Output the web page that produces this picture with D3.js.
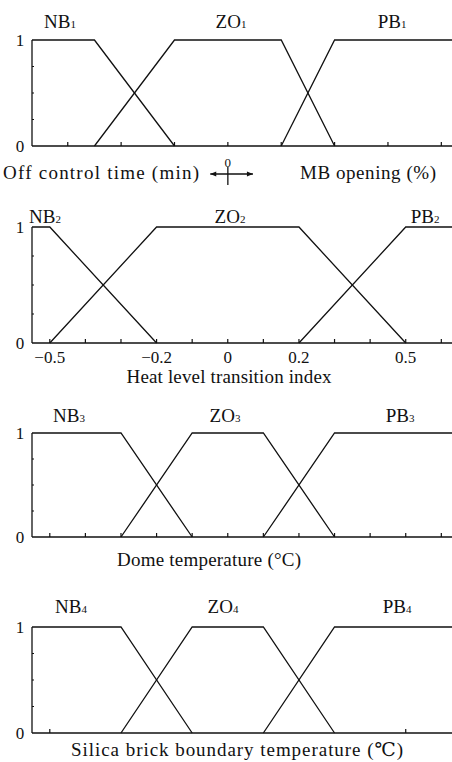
<!DOCTYPE html>
<html>
<head>
<meta charset="utf-8">
<script src="https://cdn.jsdelivr.net/npm/d3@7"></script>
<style>
  body { margin: 0; background: #fff; }
  text { font-family: "Liberation Serif", "DejaVu Serif", serif; fill: #111; }
</style>
</head>
<body>
<div class="canvas"></div>
<script>
var W = 452, H = 762;
var svg = d3.select(".canvas").append("svg").attr("width", W).attr("height", H);

// panel 1 : off control time / MB opening (x in tick units, 0 = centre)
var p1Domain = [-3.67, 4.2];
var p1Ticks = [-3, -2, -1, 0, 1, 2, 3, 4];
var setNames = ["NB", "ZO", "PB"];
var p1NB = [[-3.67, 1], [-2.5, 1], [-1, 0]];
var p1ZO = [[-2.5, 0], [-1, 1], [1, 1], [2, 0]];
var p1PB = [[1, 0], [2, 1], [4.2, 1]];

// panel 2 : heat level transition index
var p2Domain = [-0.55, 0.63];
var p2Ticks = [-0.5, -0.4, -0.3, -0.2, -0.1, 0, 0.1, 0.2, 0.3, 0.4, 0.5, 0.6];
var p2TickLabels = [-0.5, -0.2, 0, 0.2, 0.5];
var p2NB = [[-0.55, 1], [-0.5, 1], [-0.2, 0]];
var p2ZO = [[-0.5, 0], [-0.2, 1], [0.2, 1], [0.5, 0]];
var p2PB = [[0.2, 0], [0.5, 1], [0.63, 1]];

// panel 3 : dome temperature
var p3Domain = [-5.5, 6.3];
var p3Ticks = [-5, -4, -3, -2, -1, 0, 1, 2, 3, 4, 5, 6];
var p3NB = [[-5.5, 1], [-3, 1], [-1, 0]];
var p3ZO = [[-3, 0], [-1, 1], [1, 1], [3, 0]];
var p3PB = [[1, 0], [3, 1], [6.3, 1]];

// panel 4 : silica brick boundary temperature
var p4Domain = [-5.5, 6.3];
var p4Ticks = [-5, 5];
var p4NB = [[-5.5, 1], [-3, 1], [-1, 0]];
var p4ZO = [[-3, 0], [-1, 1], [1, 1], [3, 0]];
var p4PB = [[1, 0], [3, 1], [6.3, 1]];

var panels = [
  {domain: p1Domain, ticks: p1Ticks, labels: [], sets: [p1NB, p1ZO, p1PB], idx: "1",
   top: 40, bottom: 146, nameY: 28, nameX: [60, 231, 392]},
  {domain: p2Domain, ticks: p2Ticks, labels: p2TickLabels, sets: [p2NB, p2ZO, p2PB], idx: "2",
   top: 227, bottom: 343, nameY: 223, nameX: [45, 230, 425],
   title: "Heat level transition index", titleX: 229, titleY: 383, titleLen: 205},
  {domain: p3Domain, ticks: p3Ticks, labels: [], sets: [p3NB, p3ZO, p3PB], idx: "3",
   top: 433, bottom: 537, nameY: 422, nameX: [69, 225, 400],
   title: "Dome temperature (\u00B0C)", titleX: 209, titleY: 566, titleLen: 184},
  {domain: p4Domain, ticks: p4Ticks, labels: [], sets: [p4NB, p4ZO, p4PB], idx: "4",
   top: 627, bottom: 733, nameY: 613, nameX: [71, 223, 397],
   title: "Silica brick boundary temperature (\u2103)", titleX: 237, titleY: 756, titleLen: 332}
];

var left = 32, right = 452;

panels.forEach(function(p) {
  var x = d3.scaleLinear().domain(p.domain).range([left, right]);
  var y = d3.scaleLinear().domain([0, 1]).range([p.bottom, p.top]);
  var g = svg.append("g");

  // axes
  g.append("line").attr("x1", left).attr("x2", right).attr("y1", y(0)).attr("y2", y(0))
    .attr("stroke", "#111").attr("stroke-width", 1.6);
  g.append("line").attr("x1", left).attr("x2", left).attr("y1", y(0)).attr("y2", y(1))
    .attr("stroke", "#111").attr("stroke-width", 1.3);

  g.selectAll(".xt").data(p.ticks).enter().append("line")
    .attr("x1", function(d) { return x(d); }).attr("x2", function(d) { return x(d); })
    .attr("y1", y(0)).attr("y2", y(0) - 4)
    .attr("stroke", "#111").attr("stroke-width", 1.2);

  g.selectAll(".yt").data([0.25, 0.5, 0.75]).enter().append("line")
    .attr("x1", left).attr("x2", left + 2)
    .attr("y1", function(d) { return y(d); }).attr("y2", function(d) { return y(d); })
    .attr("stroke", "#111").attr("stroke-width", 1);

  g.selectAll(".yl").data([0, 1]).enter().append("text")
    .attr("x", 20).attr("y", function(d) { return y(d) + 6; })
    .attr("text-anchor", "middle").style("font-size", "17px")
    .text(function(d) { return d; });

  g.selectAll(".xl").data(p.labels).enter().append("text")
    .attr("x", function(d) { return x(d); }).attr("y", p.bottom + 20)
    .attr("text-anchor", "middle").style("font-size", "17px")
    .text(function(d) { return d < 0 ? "\u2212" + Math.abs(d) : d; });

  // membership functions
  var line = d3.line().x(function(d) { return x(d[0]); }).y(function(d) { return y(d[1]); });
  g.selectAll(".mf").data(p.sets).enter().append("path")
    .attr("d", line).attr("fill", "none").attr("stroke", "#111").attr("stroke-width", 1.3);

  // set names
  var names = g.selectAll(".nm").data(setNames).enter().append("text")
    .attr("x", function(d, i) { return p.nameX[i]; }).attr("y", p.nameY)
    .attr("text-anchor", "middle").style("font-size", "19px");
  names.append("tspan").text(function(d) { return d; });
  names.append("tspan").style("font-size", "11px").text(p.idx);

  if (p.title) {
    g.append("text").attr("x", p.titleX).attr("y", p.titleY)
      .attr("text-anchor", "middle").style("font-size", "19px")
      .attr("textLength", p.titleLen).attr("lengthAdjust", "spacing")
      .text(p.title);
  }
});

// panel 1 bottom: two opposing axis titles and the centre cross
var x1 = d3.scaleLinear().domain(p1Domain).range([left, right]);
svg.append("text").attr("x", 3).attr("y", 179).style("font-size", "19px")
  .attr("textLength", 196).attr("lengthAdjust", "spacing").text("Off control time (min)");
svg.append("text").attr("x", 300).attr("y", 179).style("font-size", "19px")
  .attr("textLength", 136).attr("lengthAdjust", "spacing").text("MB opening (%)");
svg.append("text").attr("x", x1(0)).attr("y", 167).attr("text-anchor", "middle").style("font-size", "13px").text("0");

var cy = 174;
svg.append("line").attr("x1", x1(-0.33)).attr("x2", x1(0.47)).attr("y1", cy).attr("y2", cy)
  .attr("stroke", "#111").attr("stroke-width", 1.3);
svg.append("line").attr("x1", x1(0)).attr("x2", x1(0)).attr("y1", cy - 7).attr("y2", cy + 11)
  .attr("stroke", "#111").attr("stroke-width", 1.3);
[[x1(-0.33), -1], [x1(0.47), 1]].forEach(function(a) {
  svg.append("path")
    .attr("d", "M" + a[0] + "," + cy + "l" + (-6 * a[1]) + ",-2.5v5z")
    .attr("fill", "#111");
});
</script>
</body>
</html>
